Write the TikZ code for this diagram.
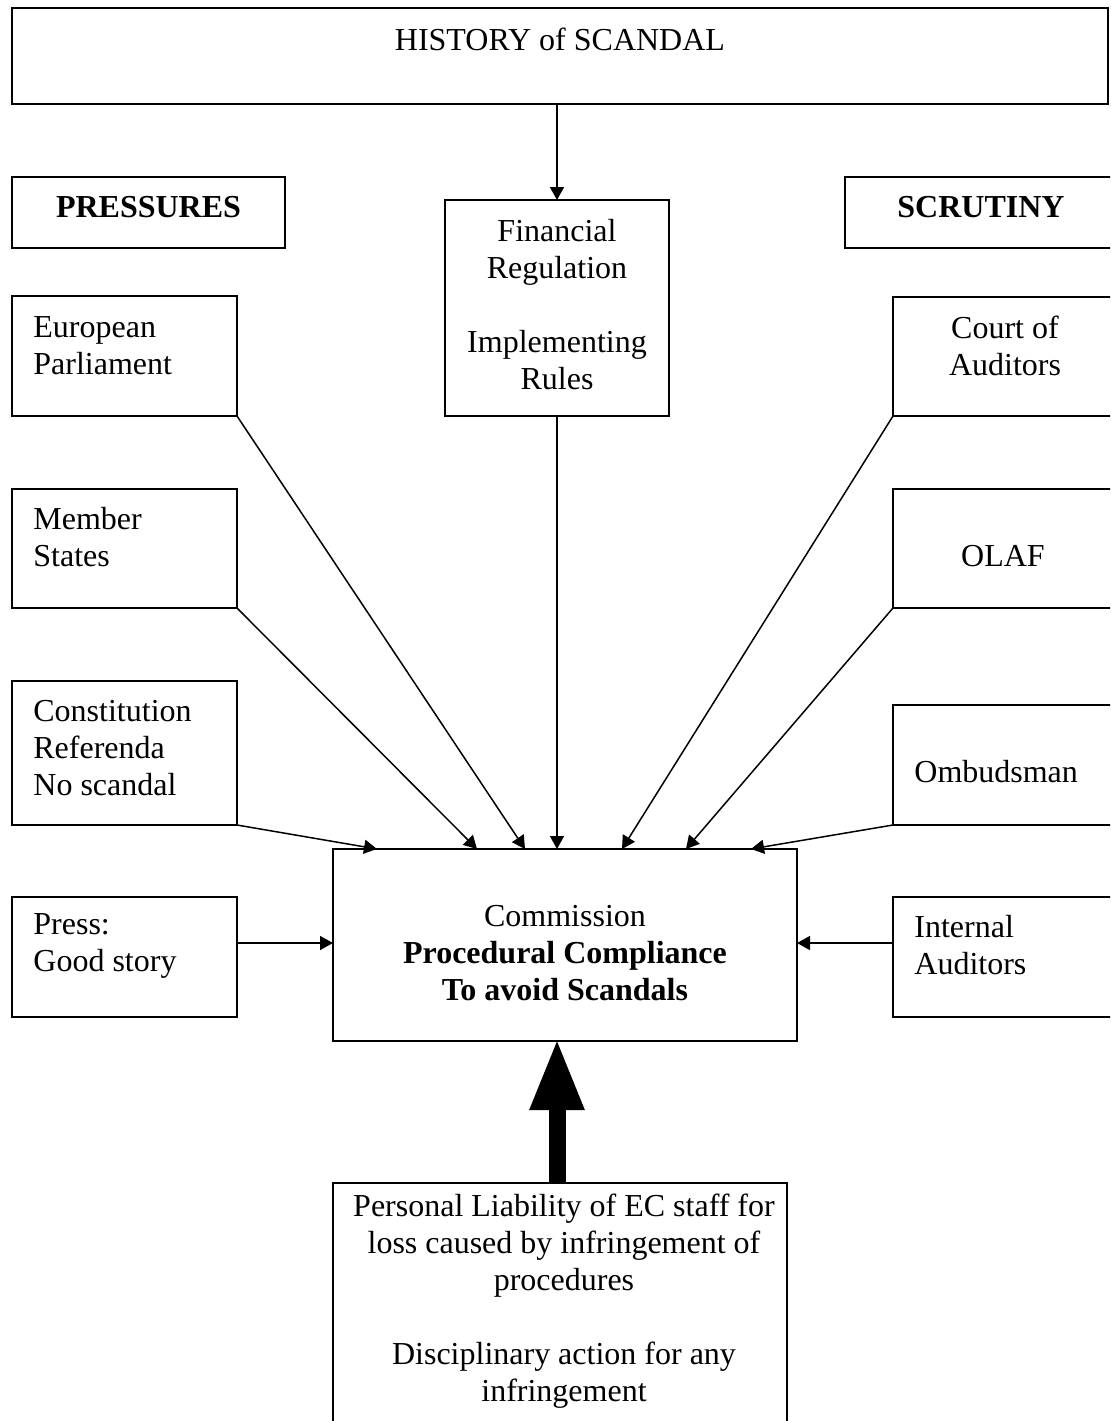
\documentclass[tikz,border=0pt]{standalone}
\usepackage{fontspec}
\setmainfont{Liberation Serif}
\usetikzlibrary{arrows.meta}
\begin{document}
\begin{tikzpicture}[x=0.5pt,y=-0.5pt,
  box/.style={draw, line width=1pt, inner sep=0pt, outer sep=0pt},
  txt/.style={inner sep=0pt, font=\fontsize{16}{18.5}\selectfont},
  conn/.style={line width=0.75pt, -{Triangle[length=6.5pt,width=7pt]}},
  big/.style={line width=8.5pt, -{Triangle[length=36pt 0 0,width=25pt 0 0]}}]
\useasboundingbox (0,0) rectangle (1110,1421);
\clip (0,0) rectangle (1110,1421);
% boxes
\node[box, minimum width=548pt, minimum height=48pt] (hist) at (560,56) {};
\node[box, minimum width=136.5pt, minimum height=35.5pt] (pres) at (148.5,212.5) {};
\node[box, minimum width=136pt, minimum height=35.5pt] (scru) at (981,212.5) {};
\node[box, minimum width=112pt, minimum height=108pt] (fin) at (557,308) {};
\node[box, minimum width=112.5pt, minimum height=60pt] (ep) at (124.5,356) {};
\node[box, minimum width=112.5pt, minimum height=59.5pt] (ms) at (124.5,548.5) {};
\node[box, minimum width=112.5pt, minimum height=72pt] (con) at (124.5,753) {};
\node[box, minimum width=112.5pt, minimum height=60pt] (pr) at (124.5,957) {};
\node[box, minimum width=112pt, minimum height=59.5pt] (court) at (1005,356.5) {};
\node[box, minimum width=112pt, minimum height=59.5pt] (olaf) at (1005,548.5) {};
\node[box, minimum width=112pt, minimum height=60pt] (omb) at (1005,765) {};
\node[box, minimum width=112pt, minimum height=60pt] (ia) at (1005,957) {};
\node[box, minimum width=232pt, minimum height=96pt] (comm) at (565,945) {};
\node[box, minimum width=227pt, minimum height=133.5pt] (bot) at (560,1316.5) {};
% texts
\node[txt] (histt) at (560,39) {HISTORY of SCANDAL};
\node[txt, font=\fontsize{16}{18.5}\selectfont\bfseries] (prest) at (148.5,207) {PRESSURES};
\node[txt, font=\fontsize{16}{18.5}\selectfont\bfseries] (scrut) at (981,207) {SCRUTINY};
\node[txt, align=center] (fint) at (557,304.5) {Financial\\Regulation\\[18.5pt]Implementing\\Rules};
\node[txt, align=left, anchor=west] (ept) at (33,345.5) {European\\Parliament};
\node[txt, align=left, anchor=west] (mst) at (33,537.5) {Member\\States};
\node[txt, align=left, anchor=west] (cont) at (33,748) {Constitution\\Referenda\\No scandal};
\node[txt, align=left, anchor=west] (prt) at (33,945.5) {Press:\\Good story};
\node[txt, align=center] (courtt) at (1005,345.5) {Court of\\Auditors};
\node[txt] (olaft) at (1003,556) {OLAF};
\node[txt, anchor=west] (ombt) at (914,772) {Ombudsman};
\node[txt, align=left, anchor=west] (iat) at (914,945.5) {Internal\\Auditors};
\node[txt, align=center] (commt) at (565,953) {Commission\\\textbf{Procedural Compliance}\\\textbf{To avoid Scandals}};
\node[txt, align=center] (bott) at (564,1301.5) {Personal Liability of EC staff for\\loss caused by infringement of\\procedures\\[18.5pt]Disciplinary action for any\\infringement};
% connectors
\draw[conn] ([xshift=-1.5pt]hist.south) -- (fin.north);
\draw[conn] (fin.south) -- ([xshift=112pt]comm.north west);
\draw[conn] (ep.south east) -- ([xshift=96pt]comm.north west);
\draw[conn] (ms.south east) -- ([xshift=72pt]comm.north west);
\draw[conn] (con.south east) -- ([xshift=22pt]comm.north west);
\draw[conn] (court.south west) -- ([xshift=144.5pt]comm.north west);
\draw[conn] (olaf.south west) -- ([xshift=176.5pt]comm.north west);
\draw[conn] (omb.south west) -- ([xshift=209pt]comm.north west);
\draw[conn] ([yshift=-23pt]pr.north east) -- ([yshift=-47pt]comm.north west);
\draw[conn] ([yshift=-23pt]ia.north west) -- ([yshift=-47pt]comm.north east);
\draw[big] ([xshift=-1.5pt]bot.north) -- ([xshift=-4pt,yshift=1.5pt]comm.south);
\end{tikzpicture}
\end{document}
